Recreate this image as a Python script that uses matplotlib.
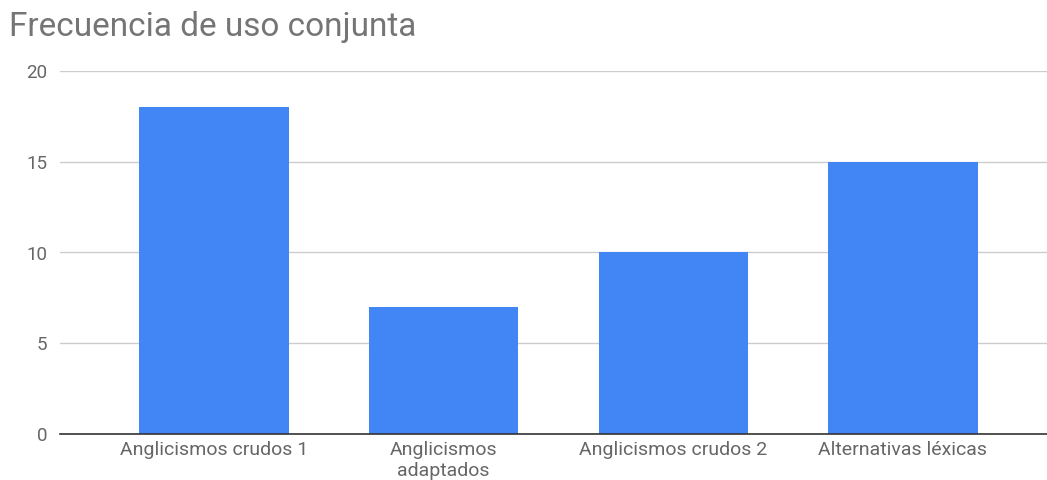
import matplotlib
matplotlib.use("Agg")
import matplotlib.pyplot as plt

categories = ["Anglicismos crudos 1", "Anglicismos\nadaptados", "Anglicismos crudos 2", "Alternativas léxicas"]
values = [18, 7, 10, 15]
yticks = [0, 5, 10, 15, 20]
title = "Frecuencia de uso conjunta"

plt.rcParams['font.family'] = ['Roboto', 'DejaVu Sans']

fig = plt.figure(figsize=(10.47, 4.8), dpi=100)
ax = fig.add_axes([60/1047, 46/480, 997/1047, 363/480])
x = list(range(len(categories)))
ax.bar(x, values, width=0.65, color="#4285F4", zorder=3)
ax.set_xlim(-0.671, 3.671)
ax.set_ylim(0, 20)
ax.set_yticks(yticks)
ax.set_xticks(x)
ax.set_xticklabels(categories, fontsize=14, color="#666666", linespacing=1.25)
ax.tick_params(axis='y', length=0, pad=9, labelsize=13.5, labelcolor="#666666")
ax.tick_params(axis='x', length=0, pad=5)
ax.grid(axis='y', color="#cccccc", linewidth=1, zorder=0)
for s in ['top', 'right', 'left']:
    ax.spines[s].set_visible(False)
ax.spines['bottom'].set_color("#333333")
ax.spines['bottom'].set_linewidth(1.2)
ax.spines['bottom'].set_zorder(4)
fig.text(9/1047, 1 - 27/480, title, fontsize=24, color="#757575", va='center', ha='left')
fig.savefig("out.png", dpi=100)
